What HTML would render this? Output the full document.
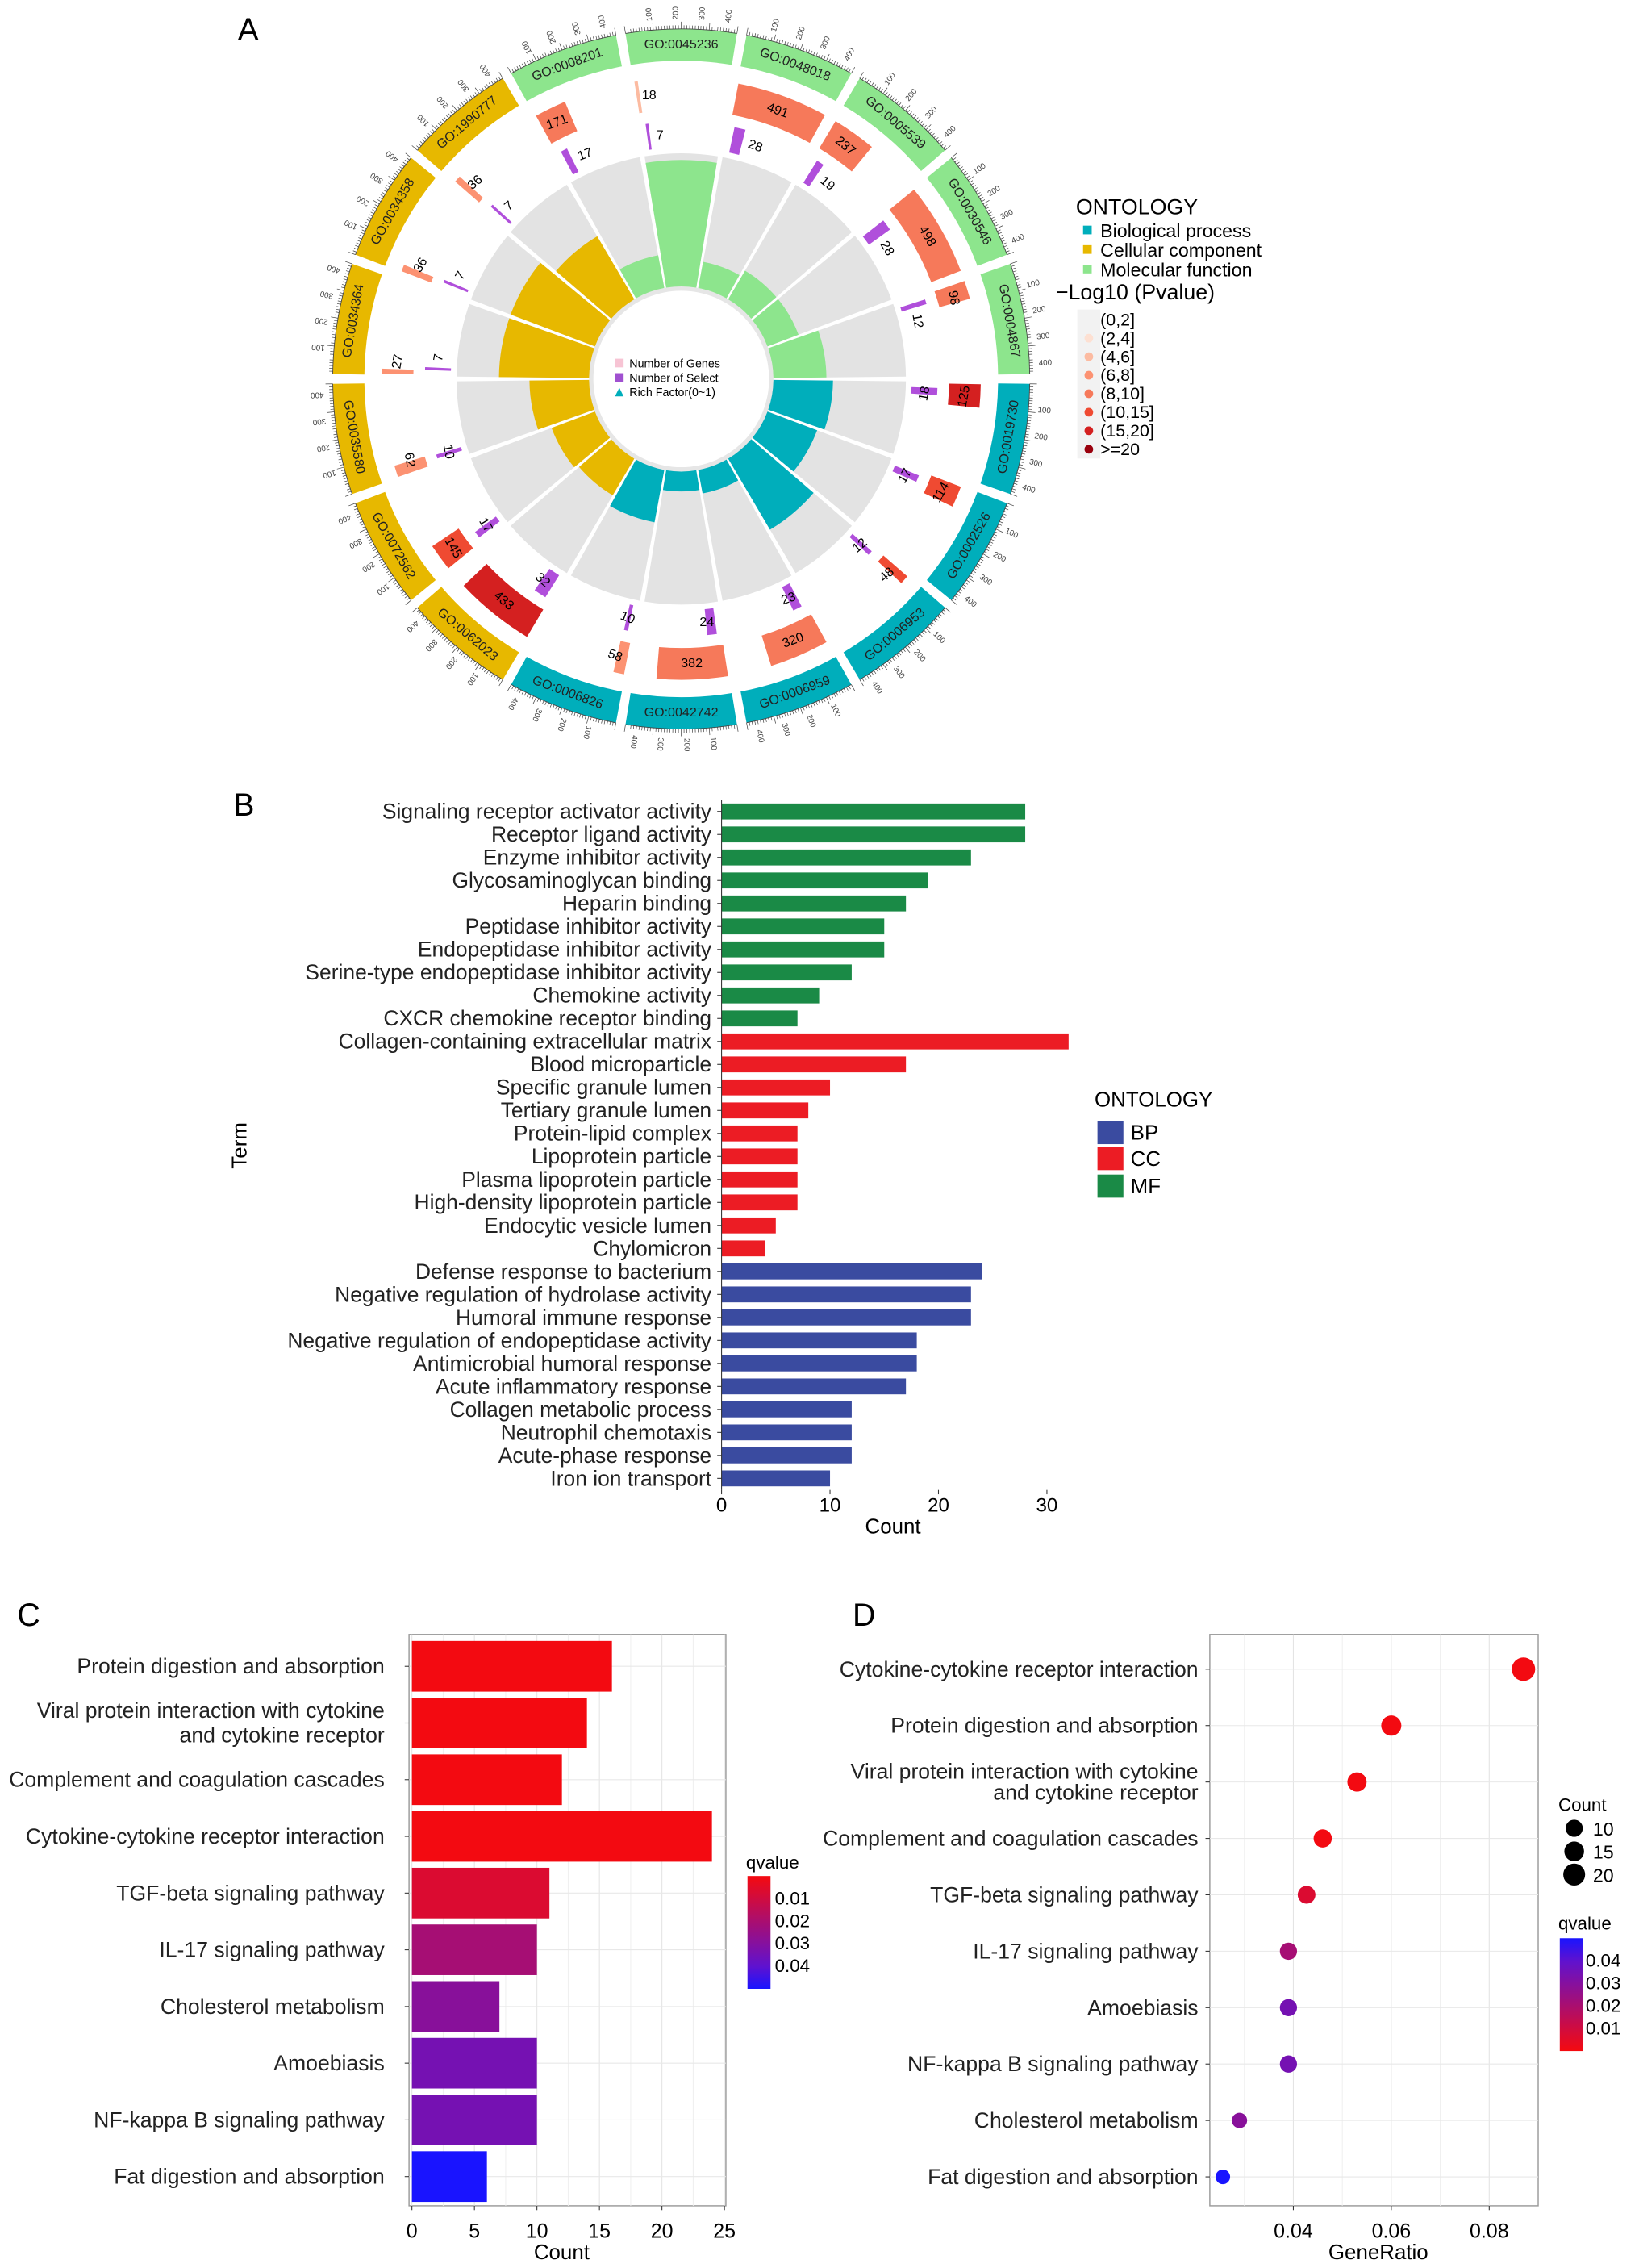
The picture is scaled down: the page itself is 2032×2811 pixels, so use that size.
<!DOCTYPE html>
<html><head><meta charset="utf-8"><style>
html,body{margin:0;padding:0;background:#fff}
svg{display:block;font-family:"Liberation Sans",sans-serif}
</style></head><body>
<svg id="fig" width="2032" height="2811" viewBox="0 0 1138 1568" preserveAspectRatio="none" xmlns="http://www.w3.org/2000/svg">
<text x="165" y="28" font-size="22">A</text>
<text x="162" y="564" font-size="22">B</text>
<text x="12" y="1124" font-size="22">C</text>
<text x="592" y="1124" font-size="22">D</text>
<g id="gA"></g>
<g id="gB"></g>
<g id="gC"></g>
<g id="gD"></g>
</svg>
<script>
// ---------- Panel A data ----------
const goIds = ["GO:0045236","GO:0048018","GO:0005539","GO:0030546","GO:0004867","GO:0019730","GO:0002526","GO:0006953","GO:0006959","GO:0042742","GO:0006826","GO:0062023","GO:0072562","GO:0035580","GO:0034364","GO:0034358","GO:1990777","GO:0008201"];
const goOnt = ["MF","MF","MF","MF","MF","BP","BP","BP","BP","BP","BP","CC","CC","CC","CC","CC","CC","MF"];
const goGenes = [18,491,237,498,98,125,114,48,320,382,58,433,145,62,27,36,36,171];
const goSelect = [7,28,19,28,12,18,17,12,23,24,10,32,17,10,7,7,7,17];
const goRich = [0.95,0.2,0.25,0.25,0.4,0.45,0.4,0.62,0.18,0.15,0.4,0.32,0.35,0.45,0.68,0.68,0.55,0.25];
const goLogP = [5,9,8,9,9,16,14,14,9,8,7,16,11,7,6,6,6,9];
const ontLabels = ["Biological process","Cellular component","Molecular function"];
const pBins = ["(0,2]","(2,4]","(4,6]","(6,8]","(8,10]","(10,15]","(15,20]",">=20"];
// ---------- Panel B data ----------
const bTerms = ["Signaling receptor activator activity","Receptor ligand activity","Enzyme inhibitor activity","Glycosaminoglycan binding","Heparin binding","Peptidase inhibitor activity","Endopeptidase inhibitor activity","Serine-type endopeptidase inhibitor activity","Chemokine activity","CXCR chemokine receptor binding","Collagen-containing extracellular matrix","Blood microparticle","Specific granule lumen","Tertiary granule lumen","Protein-lipid complex","Lipoprotein particle","Plasma lipoprotein particle","High-density lipoprotein particle","Endocytic vesicle lumen","Chylomicron","Defense response to bacterium","Negative regulation of hydrolase activity","Humoral immune response","Negative regulation of endopeptidase activity","Antimicrobial humoral response","Acute inflammatory response","Collagen metabolic process","Neutrophil chemotaxis","Acute-phase response","Iron ion transport"];
const bCounts = [28,28,23,19,17,15,15,12,9,7,32,17,10,8,7,7,7,7,5,4,24,23,23,18,18,17,12,12,12,10];
const bOnt = ["MF","MF","MF","MF","MF","MF","MF","MF","MF","MF","CC","CC","CC","CC","CC","CC","CC","CC","CC","CC","BP","BP","BP","BP","BP","BP","BP","BP","BP","BP"];
const bTicks = [0,10,20,30];
// ---------- Panel C data ----------
const cTerms = [["Protein digestion and absorption"],["Viral protein interaction with cytokine","and cytokine receptor"],["Complement and coagulation cascades"],["Cytokine-cytokine receptor interaction"],["TGF-beta signaling pathway"],["IL-17 signaling pathway"],["Cholesterol metabolism"],["Amoebiasis"],["NF-kappa B signaling pathway"],["Fat digestion and absorption"]];
const cCounts = [16,14,12,24,11,10,7,10,10,6];
const cQ = [0.0005,0.0005,0.0005,0.0005,0.007,0.021,0.029,0.034,0.034,0.05];
const cTicks = [0,5,10,15,20,25];
const qTicks = [0.01,0.02,0.03,0.04];
// ---------- Panel D data ----------
const dTerms = [["Cytokine-cytokine receptor interaction"],["Protein digestion and absorption"],["Viral protein interaction with cytokine","and cytokine receptor"],["Complement and coagulation cascades"],["TGF-beta signaling pathway"],["IL-17 signaling pathway"],["Amoebiasis"],["NF-kappa B signaling pathway"],["Cholesterol metabolism"],["Fat digestion and absorption"]];
const dRatio = [0.087,0.06,0.053,0.046,0.0427,0.039,0.039,0.039,0.029,0.0256];
const dCounts = [24,16,14,12,11,10,10,10,7,6];
const dQ = [0.0005,0.0005,0.0005,0.0005,0.007,0.021,0.034,0.034,0.029,0.05];
const dTicks = [0.04,0.06,0.08];
const sizeTicks = [10,15,20];

const NS="http://www.w3.org/2000/svg";
function mk(parent,tag,attrs,text){const e=document.createElementNS(NS,tag);for(const k in attrs)e.setAttribute(k,attrs[k]);if(text!==undefined)e.textContent=text;parent.appendChild(e);return e;}
function qColor(q){let t=Math.max(0,Math.min(1,q/0.05));
 const g=Math.round(10+10*t), b=Math.round(15+240*t);
 let rr=t<0.8?Math.round(245-150*t/0.8):Math.round(95-70*(t-0.8)/0.2);
 return `rgb(${rr},${g},${b})`;}

// ---------- Panel A ----------
(function(){
 const g=document.getElementById('gA');
 const cx=473, cy=262, N=goIds.length, step=360/N;
 const ontCol={BP:"#00aebb",CC:"#e7b800",MF:"#8de58d"};
 const pal=["#eeeeee","#fde0d2","#fcbba1","#fc9272","#f6795a","#ef4a32","#d42020","#99000d"];
 function pt(r,a){const t=(a-90)*Math.PI/180;return [cx+r*Math.cos(t),cy+r*Math.sin(t)];}
 function arc(r0,r1,a0,a1){const p1=pt(r1,a0),p2=pt(r1,a1),p3=pt(r0,a1),p4=pt(r0,a0);const lg=(a1-a0)>180?1:0;
  return `M${p1[0]},${p1[1]}A${r1},${r1} 0 ${lg} 1 ${p2[0]},${p2[1]}L${p3[0]},${p3[1]}A${r0},${r0} 0 ${lg} 0 ${p4[0]},${p4[1]}Z`;}
 const rIn=64, rGray=156;
 mk(g,'circle',{cx:cx,cy:cy,r:rIn,fill:'#e6e6e6'});
 mk(g,'circle',{cx:cx,cy:cy,r:rIn-3,fill:'#fff'});
 for(let i=0;i<N;i++){
  const a0=i*step-step/2, a1=a0+step, am=i*step;
  const sec=mk(g,'g',{});
  
  
  mk(sec,'path',{d:arc(rIn,rGray,a0+0.6,a1-0.6),fill:'#e3e3e3'});
  const rr=rIn+goRich[i]*(rGray-rIn);
  const rb=mk(sec,'path',{d:arc(rIn,rr,a0+0.6,a1-0.6),fill:ontCol[goOnt[i]]});
  
  
  const sw=goSelect[i]*0.09;
  const sb=mk(sec,'path',{d:arc(160,178,a0+2,a0+2+sw),fill:'#b04fdb'});
  
  
  let tp=pt(169,a0+3.5+sw);
  mk(sec,'text',{x:tp[0],y:tp[1],'font-size':9,'text-anchor':'start','dominant-baseline':'middle',transform:`rotate(${am>90&&am<270?am+180:am} ${tp[0]} ${tp[1]})`},goSelect[i]);
  const gw=goGenes[i]/500*(step-2);
  const bi=Math.min(7,Math.floor(goLogP[i]<=10?goLogP[i]/2:(goLogP[i]<=15?5:(goLogP[i]<=20?6:7))));
  const gb=mk(sec,'path',{d:arc(186,208,a0+1,a0+1+Math.max(gw,0.3)),fill:pal[bi]});
  
  
  tp=pt(197,a0+1+Math.max(gw/2,2.5));
  mk(sec,'text',{x:tp[0],y:tp[1],'font-size':9,'text-anchor':'middle','dominant-baseline':'middle',transform:`rotate(${am>90&&am<270?am+180:am} ${tp[0]} ${tp[1]})`},goGenes[i]);
  const ring=mk(sec,'path',{d:arc(220,242,a0+0.8,a1-0.8),fill:ontCol[goOnt[i]]});
  
  
  tp=pt(231,am);
  mk(sec,'text',{x:tp[0],y:tp[1],'font-size':9,'text-anchor':'middle','dominant-baseline':'middle',fill:'#222',transform:`rotate(${am>90&&am<270?am+180:am} ${tp[0]} ${tp[1]})`},goIds[i]);
  const tk=mk(sec,'g',{stroke:'#444','stroke-width':0.4});
  for(let k=0;k<=40;k++){const a=a0+0.8+k*(step-1.6)/40;const p1=pt(242,a),p2=pt(k%10==0?247:244.5,a);mk(tk,'line',{x1:p1[0],y1:p1[1],x2:p2[0],y2:p2[1]});}
  const arcp=[pt(242,a0+0.8),pt(242,a1-0.8)];
  mk(sec,'path',{d:`M${arcp[0][0]},${arcp[0][1]}A242,242 0 0 1 ${arcp[1][0]},${arcp[1][1]}`,fill:'none',stroke:'#444','stroke-width':0.5});
  for(let k=1;k<=4;k++){const a=a0+0.8+k*(step-1.6)/4.4;const p=pt(253,a);
   mk(sec,'text',{x:p[0],y:p[1],'font-size':5.5,'text-anchor':'middle','dominant-baseline':'middle',fill:'#444',transform:`rotate(${a-90} ${p[0]} ${p[1]})`},k*100);}
 }
 const cl=mk(g,'g',{});
 
 
 mk(cl,'rect',{x:427,y:248,width:6,height:6,fill:'#f7c4d4'});
 mk(cl,'text',{x:437,y:254,'font-size':8},'Number of Genes');
 mk(cl,'rect',{x:427,y:258,width:6,height:6,fill:'#a050d0'});
 mk(cl,'text',{x:437,y:264,'font-size':8},'Number of Select');
 mk(cl,'path',{d:'M427,274 L430,268 L433,274Z',fill:'#00aebb'});
 mk(cl,'text',{x:437,y:274,'font-size':8},'Rich Factor(0~1)');
 const lg=mk(g,'g',{});
 
 
 mk(lg,'text',{x:747,y:148,'font-size':15},'ONTOLOGY');
 const oc=[ontCol.BP,ontCol.CC,ontCol.MF];
 for(let i=0;i<3;i++){mk(lg,'rect',{x:752,y:156+i*13.5,width:6,height:6,fill:oc[i]});mk(lg,'text',{x:764,y:164+i*13.5,'font-size':13},ontLabels[i]);}
 mk(lg,'text',{x:733,y:207,'font-size':15},'\u2212Log10 (Pvalue)');
 mk(lg,'rect',{x:748,y:214,width:16,height:103,fill:'#f2f2f2'});
 for(let i=0;i<pBins.length;i++){const y=221+i*12.8;
  if(i>0)mk(lg,'circle',{cx:756,cy:y,r:3,fill:pal[i]});
  mk(lg,'text',{x:764,y:y+4,'font-size':12},pBins[i]);}
})();

// ---------- Panel B ----------
(function(){
 const g=document.getElementById('gB');
 const x0=501, ppu=7.53, y0=561, dy=15.9;
 const col={MF:"#1a8a46",CC:"#ec1c24",BP:"#3a4ba0"};
 const xs=v=>x0+v*ppu;
 for(let i=0;i<bTerms.length;i++){const y=y0+i*dy;
  const r=mk(g,'rect',{x:x0,y:y-5.5,width:xs(bCounts[i])-x0,height:11,fill:col[bOnt[i]]});
  
  
  mk(g,'line',{x1:x0-3,x2:x0,y1:y,y2:y,stroke:'#333','stroke-width':0.6});
  mk(g,'text',{x:494,y:y+5,'font-size':14.8,'text-anchor':'end',fill:'#222'},bTerms[i]);}
 mk(g,'line',{x1:x0,x2:x0,y1:y0-8,y2:y0+29*dy+8,stroke:'#333','stroke-width':0.6});
 for(const t of bTicks){mk(g,'line',{x1:xs(t),x2:xs(t),y1:y0+29*dy+8,y2:y0+29*dy+11,stroke:'#333','stroke-width':0.6});
  mk(g,'text',{x:xs(t),y:1045,'font-size':13.5,'text-anchor':'middle'},t);}
 mk(g,'text',{x:620,y:1060,'font-size':14.5,'text-anchor':'middle',},'Count');
 mk(g,'text',{x:171,y:792,'font-size':14.5,'text-anchor':'middle',transform:'rotate(-90 171 792)',},'Term');
 const lg=mk(g,'g',{});
 
 
 mk(lg,'text',{x:760,y:765,'font-size':14.5},'ONTOLOGY');
 [["BP",783],["CC",801],["MF",820]].forEach(([k,y])=>{mk(lg,'rect',{x:762,y:y-8,width:18,height:16,fill:col[k]});mk(lg,'text',{x:785,y:y+5,'font-size':14.5},k);});
})();

// ---------- Panel C ----------
(function(){
 const g=document.getElementById('gC');
 const L=284,R=504,T=1130,B=1525, x0=286, ppu=(503-286)/25;
 const xs=v=>x0+v*ppu, ys=i=>1152+i*39.2;
 mk(g,'rect',{x:L,y:T,width:R-L,height:B-T,fill:'#fff',stroke:'#999','stroke-width':0.8});
 for(let t=0;t<=25;t+=2.5)mk(g,'line',{x1:xs(t),x2:xs(t),y1:T,y2:B,stroke:t%5==0?'#e4e4e4':'#f0f0f0','stroke-width':0.6});
 for(let i=0;i<cCounts.length;i++)mk(g,'line',{x1:L,x2:R,y1:ys(i),y2:ys(i),stroke:'#e8e8e8','stroke-width':0.6});
 for(let i=0;i<cCounts.length;i++){const y=ys(i);
  const r=mk(g,'rect',{x:x0,y:y-17.5,width:xs(cCounts[i])-x0,height:35,fill:qColor(cQ[i])});
  
  
  mk(g,'line',{x1:L-3,x2:L,y1:y,y2:y,stroke:'#333','stroke-width':0.6});
  const ls=cTerms[i];
  ls.forEach((s,j)=>mk(g,'text',{x:267,y:y+5+(j-(ls.length-1)/2)*17,'font-size':14.9,'text-anchor':'end',fill:'#222'},s));}
 for(const t of cTicks){mk(g,'line',{x1:xs(t),x2:xs(t),y1:B,y2:B+3,stroke:'#333','stroke-width':0.6});
  mk(g,'text',{x:xs(t),y:1547,'font-size':14,'text-anchor':'middle'},t);}
 mk(g,'text',{x:390,y:1562,'font-size':14.5,'text-anchor':'middle'},'Count');
 const lg=mk(g,'g',{});
 
 
 mk(lg,'text',{x:518,y:1292,'font-size':12.5},'qvalue');
 const d=mk(g,'defs',{});const gr=mk(d,'linearGradient',{id:'gc',x1:0,y1:0,x2:0,y2:1});
 for(let k=0;k<=10;k++)mk(gr,'stop',{offset:k/10,'stop-color':qColor(k*0.005)});
 mk(lg,'rect',{x:519,y:1297,width:16,height:78,fill:'url(#gc)'});
 qTicks.forEach(q=>{const y=1297+q/0.05*78;mk(lg,'text',{x:538,y:y+4,'font-size':12.5},q.toFixed(2));});
})();

// ---------- Panel D ----------
(function(){
 const g=document.getElementById('gD');
 const L=840,R=1068,T=1130,B=1525;
 const xs=v=>898+(v-0.04)*3400, ys=i=>1154+i*39;
 mk(g,'rect',{x:L,y:T,width:R-L,height:B-T,fill:'#fff',stroke:'#999','stroke-width':0.8});
 for(let t=0.03;t<=0.1001;t+=0.01)if(xs(t)>L&&xs(t)<R)mk(g,'line',{x1:xs(t),x2:xs(t),y1:T,y2:B,stroke:Math.round(t*100)%2==0?'#e4e4e4':'#f0f0f0','stroke-width':0.6});
 for(let i=0;i<dRatio.length;i++)mk(g,'line',{x1:L,x2:R,y1:ys(i),y2:ys(i),stroke:'#e8e8e8','stroke-width':0.6});
 const rs=c=>2+Math.sqrt(c)*1.25;
 for(let i=0;i<dRatio.length;i++){const y=ys(i);
  const c=mk(g,'circle',{cx:xs(dRatio[i]),cy:y,r:rs(dCounts[i]),fill:qColor(dQ[i])});
  
  
  mk(g,'line',{x1:L-3,x2:L,y1:y,y2:y,stroke:'#333','stroke-width':0.6});
  const ls=dTerms[i];
  ls.forEach((s,j)=>mk(g,'text',{x:832,y:y+5+(j-(ls.length-1)/2)*14.5,'font-size':14.9,'text-anchor':'end',fill:'#222'},s));}
 for(const t of dTicks){mk(g,'line',{x1:xs(t),x2:xs(t),y1:B,y2:B+3,stroke:'#333','stroke-width':0.6});
  mk(g,'text',{x:xs(t),y:1547,'font-size':14,'text-anchor':'middle'},t.toFixed(2));}
 mk(g,'text',{x:957,y:1562,'font-size':14.5,'text-anchor':'middle'},'GeneRatio');
 const lg=mk(g,'g',{});
 
 
 mk(lg,'text',{x:1082,y:1252,'font-size':12.5},'Count');
 sizeTicks.forEach((s,k)=>{const y=1264+k*16;mk(lg,'circle',{cx:1093,cy:y,r:rs(s),fill:'#000'});mk(lg,'text',{x:1106,y:y+5,'font-size':13},s);});
 mk(lg,'text',{x:1082,y:1334,'font-size':12.5},'qvalue');
 const d=mk(g,'defs',{});const gr=mk(d,'linearGradient',{id:'gd',x1:0,y1:0,x2:0,y2:1});
 for(let k=0;k<=10;k++)mk(gr,'stop',{offset:k/10,'stop-color':qColor(0.05-k*0.005)});
 mk(lg,'rect',{x:1083,y:1340,width:16,height:78,fill:'url(#gd)'});
 qTicks.forEach(q=>{const y=1340+(0.05-q)/0.05*78;mk(lg,'text',{x:1101,y:y+4,'font-size':12.5},q.toFixed(2));});
})();
</script>
</body></html>
